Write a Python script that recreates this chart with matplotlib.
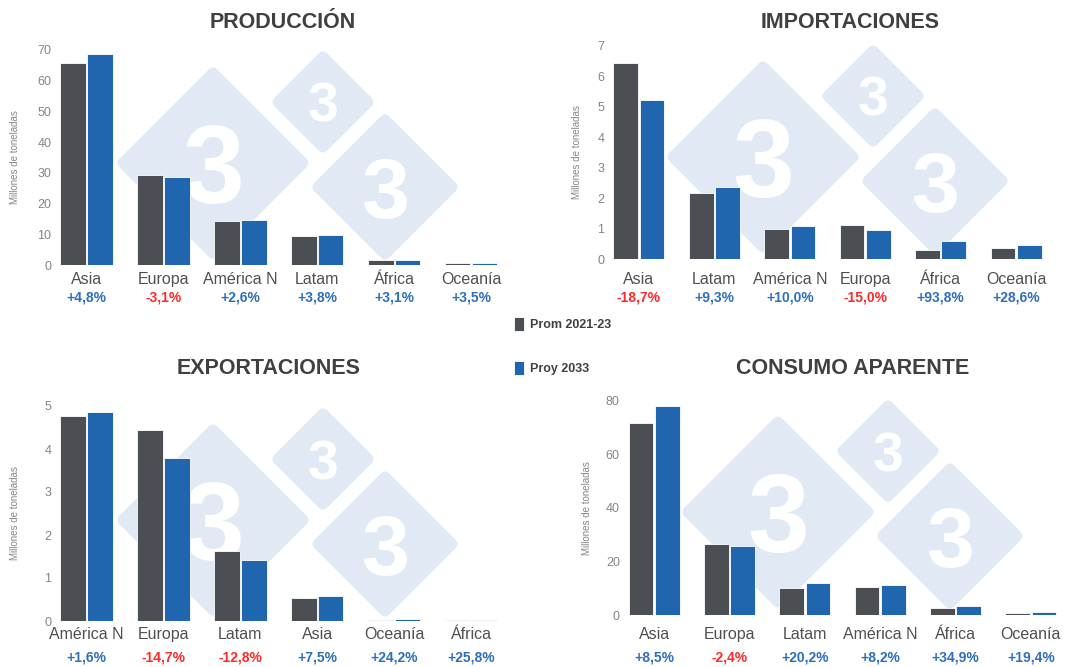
import numpy as np
import matplotlib
matplotlib.use("Agg")
import matplotlib.pyplot as plt
from matplotlib.patches import Polygon

plt.rcParams["font.family"] = ["Liberation Sans", "DejaVu Sans"]

# datos (millones de toneladas)
prod_regions = ["Asia", "Europa", "América N", "Latam", "África", "Oceanía"]
prod_prom = [65.7, 29.4, 14.2, 9.4, 1.7, 0.5]
prod_proy = [68.8, 28.5, 14.6, 9.7, 1.75, 0.55]
prod_pct = ["+4,8%", "-3,1%", "+2,6%", "+3,8%", "+3,1%", "+3,5%"]

imp_regions = ["Asia", "Latam", "América N", "Europa", "África", "Oceanía"]
imp_prom = [6.42, 2.17, 0.99, 1.10, 0.31, 0.35]
imp_proy = [5.22, 2.37, 1.09, 0.94, 0.60, 0.45]
imp_pct = ["-18,7%", "+9,3%", "+10,0%", "-15,0%", "+93,8%", "+28,6%"]

exp_regions = ["América N", "Europa", "Latam", "Asia", "Oceanía", "África"]
exp_prom = [4.77, 4.44, 1.63, 0.53, 0.03, 0.02]
exp_proy = [4.85, 3.79, 1.42, 0.57, 0.04, 0.025]
exp_pct = ["+1,6%", "-14,7%", "-12,8%", "+7,5%", "+24,2%", "+25,8%"]

con_regions = ["Asia", "Europa", "Latam", "América N", "África", "Oceanía"]
con_prom = [71.9, 26.4, 10.0, 10.5, 2.5, 0.8]
con_proy = [78.0, 25.8, 12.0, 11.4, 3.3, 0.95]
con_pct = ["+8,5%", "-2,4%", "+20,2%", "+8,2%", "+34,9%", "+19,4%"]

c_prom = "#4b4f53"
c_proy = "#1f66ae"
c_pos = "#2f6fba"
c_neg = "#ff2a2a"
c_tick = "#858585"
c_title = "#404040"

W, H = 1073, 667
fig = plt.figure(figsize=(W / 100, H / 100), dpi=100)
fig.patch.set_facecolor("white")


def px(x0, y0, x1, y1):
    # rectangle en pixels -> coordonnees figure
    return [x0 / W, 1 - y1 / H, (x1 - x0) / W, (y1 - y0) / H]


def logo(cx, cy):
    # filigrane : trois losanges avec un "3"
    for dx, dy, r, fs in [(0, 0, 90, 80), (110, -61, 45, 40), (172, 24, 67, 62)]:
        x, y = cx + dx, cy + dy
        pts = [(x / W, (H - y + r) / H), ((x + r) / W, (H - y) / H),
               (x / W, (H - y - r) / H), ((x - r) / W, (H - y) / H)]
        fig.patches.append(Polygon(pts, closed=True, transform=fig.transFigure,
                                   fc="#e1eaf4", ec="#e1eaf4", lw=8,
                                   joinstyle="round", zorder=-2))
        fig.text(x / W, (H - y - fs * 0.5) / H, "3", color="white", fontsize=fs,
                 fontweight="bold", ha="center", va="baseline", zorder=-1)


def panel(rect, title, tpos, regions, prom, proy, pct, ymax, ystep,
          lab_off, pct_off, ylab_x):
    ax = fig.add_axes(rect)
    ax.set_facecolor("none")
    x = np.arange(len(regions))
    ax.bar(x - 0.175, prom, 0.33, color=c_prom, edgecolor="white", lw=0.6,
           label="Prom 2021-23")
    ax.bar(x + 0.175, proy, 0.33, color=c_proy, edgecolor="white", lw=0.6,
           label="Proy 2033")
    ax.set_xlim(-0.4, len(regions) - 0.6)
    ax.set_ylim(0, ymax)
    ax.set_yticks(np.arange(0, ymax + 0.1, ystep))
    ax.set_xticks([])
    ax.tick_params(axis="y", length=0, pad=3, labelsize=9, labelcolor=c_tick)
    for s in ax.spines.values():
        s.set_visible(False)
    for i, (r, p) in enumerate(zip(regions, pct)):
        ax.annotate(r, (i, 0), xycoords=("data", "axes fraction"),
                    xytext=(0, -lab_off), textcoords="offset pixels",
                    ha="center", va="baseline", fontsize=11.5, color="#505050")
        ax.annotate(p, (i, 0), xycoords=("data", "axes fraction"),
                    xytext=(0, -pct_off), textcoords="offset pixels",
                    ha="center", va="baseline", fontsize=10, fontweight="bold",
                    color=c_neg if p.startswith("-") else c_pos)
    fig.text(tpos[0] / W, 1 - tpos[1] / H, title, fontsize=15.5,
             fontweight="bold", color=c_title, ha="center", va="center")
    fig.text(ylab_x / W, (rect[1] + rect[3] / 2), "Millones de toneladas",
             rotation=90, fontsize=7, color=c_tick, ha="center", va="center")
    return ax


logo(213, 163)
logo(763, 157)
logo(213, 520)
logo(778, 512)

ax1 = panel(px(55.7, 50, 502, 265), "PRODUCCIÓN", (283, 22),
            prod_regions, prod_prom, prod_proy, prod_pct, 70, 10, 19, 36, 15)
ax2 = panel(px(608.6, 45.7, 1046.4, 259), "IMPORTACIONES", (850, 22),
            imp_regions, imp_prom, imp_proy, imp_pct, 7, 1, 25, 42, 577)
ax3 = panel(px(55.7, 406, 502, 621), "EXPORTACIONES", (269, 368),
            exp_regions, exp_prom, exp_proy, exp_pct, 5, 1, 18, 40, 15)
ax4 = panel(px(624, 401, 1061, 615), "CONSUMO APARENTE", (853, 368),
            con_regions, con_prom, con_proy, con_pct, 80, 20, 24, 46, 587)

handles, labels = ax1.get_legend_handles_labels()
leg = fig.legend(handles, labels, loc="upper left",
                 bbox_to_anchor=(503 / W, 1 - 306 / H), frameon=False,
                 labelspacing=2.4, handlelength=0.75, handleheight=1.3,
                 handletextpad=0.5, prop={"size": 9, "weight": "bold"})
for t in leg.get_texts():
    t.set_color("#404040")

fig.savefig("out.png", dpi=100, facecolor="white")
